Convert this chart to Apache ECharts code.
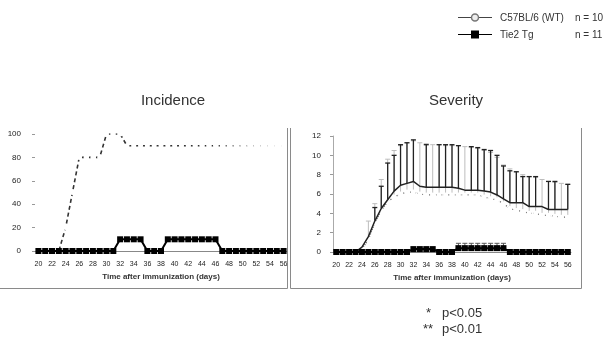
<!DOCTYPE html>
<html>
<head>
<meta charset="utf-8">
<script src="https://cdn.jsdelivr.net/npm/echarts@6/dist/echarts.min.js"></script>
<style>
html, body { margin: 0; padding: 0; background: #fff; }
#main { width: 606px; height: 337px; }
</style>
</head>
<body>
<div id="main"></div>
<script>
var chartDom = document.getElementById('main');
var myChart = echarts.init(chartDom);
var option;

var FONT = 'Liberation Sans, Arial, sans-serif';
var WT = 'C57BL/6 (WT)';
var TG = 'Tie2 Tg';

// days after immunization, one point per day
var days = ['20', '21', '22', '23', '24', '25', '26', '27', '28', '29',
    '30', '31', '32', '33', '34', '35', '36', '37', '38', '39',
    '40', '41', '42', '43', '44', '45', '46', '47', '48', '49',
    '50', '51', '52', '53', '54', '55', '56'];

// incidence (%)
var incWT = [0, 0, 0, 0, 20, 50, 80, 80, 80, 80,
    100, 100, 100, 90, 90, 90, 90, 90, 90, 90,
    90, 90, 90, 90, 90, 90, 90, 90, 90, 90,
    90, 90, 90, 90, 90, 90, 90];
var incTg = [0, 0, 0, 0, 0, 0, 0, 0, 0, 0,
    0, 0, 10, 10, 10, 10, 0, 0, 0, 10,
    10, 10, 10, 10, 10, 10, 10, 0, 0, 0,
    0, 0, 0, 0, 0, 0, 0];

// severity: mean line with upper error bars
var sevMean = [0, 0, 0, 0, 0.5, 1.6, 3.2, 4.5, 5.4, 6.3,
    6.9, 7.1, 7.3, 6.8, 6.7, 6.7, 6.7, 6.7, 6.7, 6.6,
    6.4, 6.4, 6.4, 6.3, 6.2, 5.9, 5.5, 5.1, 5.1, 5.1,
    4.7, 4.7, 4.7, 4.4, 4.4, 4.4, 4.4];
var sevMeanTop = [null, null, null, null, null, null, 4.6, 6.8, 9.2, 10.0,
    11.1, 11.3, 11.6, null, 11.1, null, 11.1, 11.1, 11.1, 11.0,
    null, 10.9, 10.8, 10.6, 10.5, 10.0, 8.9, 8.4, 8.3, 7.8,
    7.8, 7.8, null, 7.3, 7.3, null, 7.0];

// severity: WT dotted line with light error bars
var sevWT = [0, 0, 0, 0, 0.3, 1.3, 3.0, 4.3, 5.2, 5.7,
    6.0, 6.2, 6.2, 6.0, 5.9, 5.9, 5.9, 5.9, 5.9, 5.9,
    5.9, 5.9, 5.9, 5.7, 5.5, 5.4, 5.0, 4.5, 4.3, 4.2,
    4.0, 4.0, 3.8, 3.8, 3.7, 3.6, 3.6];
var sevWTTop = [null, null, null, null, null, 3.2, 5.0, 7.5, 9.6, 10.5,
    11.0, 11.3, 11.5, 11.3, 11.2, 11.1, 11.1, 11.0, 11.0, 11.0,
    10.9, 10.8, 10.7, 10.5, 10.3, 9.8, 9.0, 8.6, 8.3, 8.0,
    7.8, 7.7, 7.5, 7.3, 7.2, 7.1, 7.0];

// severity: transgenic
var sevTg = [0, 0, 0, 0, 0, 0, 0, 0, 0, 0,
    0, 0, 0.3, 0.3, 0.3, 0.3, 0, 0, 0, 0.4,
    0.4, 0.4, 0.4, 0.4, 0.4, 0.4, 0.4, 0, 0, 0,
    0, 0, 0, 0, 0, 0, 0];
var sevTgTop = [null, null, null, null, null, null, null, null, null, null,
    null, null, null, null, null, null, null, null, null, 0.9,
    0.9, 0.9, 0.9, 0.9, 0.9, 0.9, 0.9, null, null, null,
    null, null, null, null, null, null, null];

function barData(low, high) {
    var out = [];
    for (var i = 0; i < days.length; i++) {
        if (high[i] != null) out.push([i, low[i], high[i]]);
    }
    return out;
}

function errorBars(color, width) {
    return function (params, api) {
        var p0 = api.coord([api.value(0), api.value(1)]);
        var p1 = api.coord([api.value(0), api.value(2)]);
        var style = { stroke: color, lineWidth: width };
        return {
            type: 'group',
            children: [
                { type: 'line', shape: { x1: p0[0], y1: p0[1], x2: p1[0], y2: p1[1] }, style: style },
                { type: 'line', shape: { x1: p1[0] - 2.5, y1: p1[1], x2: p1[0] + 2.5, y2: p1[1] }, style: style }
            ]
        };
    };
}

function xAxisFor(gridIndex) {
    return {
        type: 'category',
        gridIndex: gridIndex,
        data: days,
        boundaryGap: true,
        axisLine: { lineStyle: { color: '#888', width: 1 } },
        axisTick: { show: false },
        axisLabel: { interval: 1, fontSize: 7, color: '#222', margin: 10, fontFamily: FONT },
        name: 'Time after immunization (days)',
        nameLocation: 'middle',
        nameGap: 22,
        nameTextStyle: { fontSize: 8, fontWeight: 'bold', color: '#333', fontFamily: FONT }
    };
}

function text(x, y, str, size, align) {
    return {
        type: 'text', silent: true,
        style: {
            text: str, x: x, y: y, fontSize: size, fontFamily: FONT,
            fill: '#333', align: align || 'center', verticalAlign: 'middle'
        }
    };
}

function line(x1, y1, x2, y2, color, width) {
    return {
        type: 'line', silent: true,
        shape: { x1: x1, y1: y1, x2: x2, y2: y2 },
        style: { stroke: color || '#8a8a8a', lineWidth: width || 1 }
    };
}

option = {
    animation: false,
    textStyle: { fontFamily: FONT },
    legend: {
        orient: 'vertical',
        left: 456,
        top: 8,
        itemWidth: 34,
        itemHeight: 10,
        itemGap: 7,
        icon: 'none',
        textStyle: {
            fontSize: 10,
            color: '#333',
            rich: {
                a: { width: 75, fontSize: 10, color: '#333' },
                b: { fontSize: 10, color: '#333' }
            }
        },
        formatter: function (name) {
            return '{a|' + name + '}{b|' + (name === WT ? 'n = 10' : 'n = 11') + '}';
        },
        data: [WT, TG]
    },
    grid: [
        { left: 35, right: 319, top: 134, bottom: 86 },
        { left: 333, right: 35, top: 136, bottom: 85 }
    ],
    xAxis: [xAxisFor(0), xAxisFor(1)],
    yAxis: [
        {
            type: 'value', gridIndex: 0, min: 0, max: 100, interval: 20,
            axisLine: { show: false },
            axisTick: { show: true, length: 3, lineStyle: { color: '#999' } },
            splitLine: { show: false },
            axisLabel: { fontSize: 8, color: '#222', margin: 14, fontFamily: FONT }
        },
        {
            type: 'value', gridIndex: 1, min: 0, max: 12, interval: 2,
            axisLine: { show: true, lineStyle: { color: '#aaa' } },
            axisTick: { show: true, length: 3, lineStyle: { color: '#999' } },
            splitLine: { show: false },
            axisLabel: { fontSize: 8, color: '#222', margin: 12, fontFamily: FONT }
        }
    ],
    series: [
        {
            name: WT, type: 'line', xAxisIndex: 0, yAxisIndex: 0,
            data: incWT,
            symbol: 'emptyCircle', symbolSize: 3, showAllSymbol: true,
            itemStyle: { color: '#fff', borderColor: '#888', borderWidth: 1 },
            lineStyle: { color: '#333', width: 1.6, type: [4, 3] },
            z: 3
        },
        {
            name: TG, type: 'line', xAxisIndex: 0, yAxisIndex: 0,
            data: incTg,
            symbol: 'rect', symbolSize: 6, showAllSymbol: true,
            itemStyle: { color: '#000' },
            lineStyle: { color: '#000', width: 2 },
            z: 5
        },
        {
            name: 'WT error', type: 'custom', xAxisIndex: 1, yAxisIndex: 1,
            renderItem: errorBars('#bdbdbd', 1),
            data: barData(sevWT, sevWTTop),
            z: 1
        },
        {
            name: 'mean error', type: 'custom', xAxisIndex: 1, yAxisIndex: 1,
            renderItem: errorBars('#222', 1.3),
            data: barData(sevMean, sevMeanTop),
            z: 2
        },
        {
            name: 'Tg error', type: 'custom', xAxisIndex: 1, yAxisIndex: 1,
            renderItem: errorBars('#555', 1),
            data: barData(sevTg, sevTgTop),
            z: 2
        },
        {
            name: WT, type: 'line', xAxisIndex: 1, yAxisIndex: 1,
            data: sevWT,
            symbol: 'emptyCircle', symbolSize: 3, showAllSymbol: true,
            itemStyle: { color: '#fff', borderColor: '#888', borderWidth: 1 },
            lineStyle: { color: '#666', width: 1.2, type: 'dotted' },
            z: 3
        },
        {
            name: 'mean', type: 'line', xAxisIndex: 1, yAxisIndex: 1,
            data: sevMean,
            symbol: 'none',
            lineStyle: { color: '#222', width: 1.5 },
            z: 4
        },
        {
            name: TG, type: 'line', xAxisIndex: 1, yAxisIndex: 1,
            data: sevTg,
            symbol: 'rect', symbolSize: 6, showAllSymbol: true,
            itemStyle: { color: '#000' },
            lineStyle: { color: '#000', width: 2 },
            z: 5
        }
    ],
    graphic: [
        // legend keys
        line(458, 17.5, 492, 17.5, '#444', 1.2),
        {
            type: 'circle', silent: true,
            shape: { cx: 475, cy: 17.5, r: 3.5 },
            style: { fill: '#eee', stroke: '#777', lineWidth: 1.5 }
        },
        line(458, 34.5, 492, 34.5, '#000', 1.2),
        {
            type: 'rect', silent: true,
            shape: { x: 471, y: 30.5, width: 8, height: 8 },
            style: { fill: '#000' }
        },
        text(173, 101, 'Incidence', 15),
        text(456, 101, 'Severity', 15),
        line(287.5, 128, 287.5, 288.5),
        line(0, 288.5, 287.5, 288.5),
        line(290.5, 128, 290.5, 288.5),
        line(290.5, 288.5, 581.5, 288.5),
        line(581.5, 128, 581.5, 288.5),
        text(426, 313, '*', 13, 'left'),
        text(442, 313, 'p<0.05', 13, 'left'),
        text(423, 329, '**', 13, 'left'),
        text(442, 329, 'p<0.01', 13, 'left')
    ]
};

option && myChart.setOption(option);
</script>
</body>
</html>
